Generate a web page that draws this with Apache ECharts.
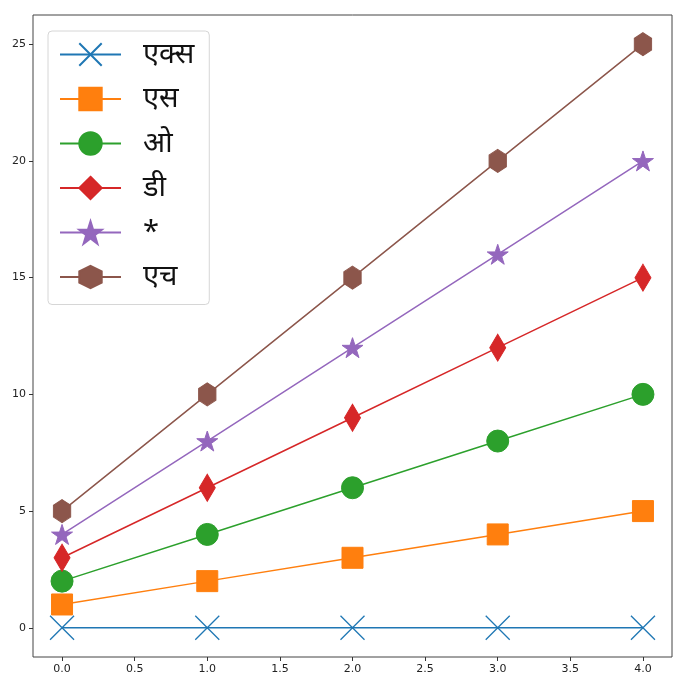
<!DOCTYPE html>
<html>
<head>
<meta charset="utf-8">
<script src="https://cdn.jsdelivr.net/npm/echarts@6/dist/echarts.min.js"></script>
<style>
  html, body { margin: 0; padding: 0; background: #fff; }
  #chart { width: 686px; height: 686px; }
</style>
</head>
<body>
<div id="chart"></div>
<script>
// data
var xValues = [0, 1, 2, 3, 4];
var seriesNames = ['एक्स', 'एस', 'ओ', 'डी', '*', 'एच'];
var valuesX = [0, 0, 0, 0, 0];
var valuesS = [1, 2, 3, 4, 5];
var valuesO = [2, 4, 6, 8, 10];
var valuesD = [3, 6, 9, 12, 15];
var valuesStar = [4, 8, 12, 16, 20];
var valuesH = [5, 10, 15, 20, 25];
var xTicks = [0, 0.5, 1, 1.5, 2, 2.5, 3, 3.5, 4];
var yTicks = [0, 5, 10, 15, 20, 25];

var allValues = [valuesX, valuesS, valuesO, valuesD, valuesStar, valuesH];

// matplotlib tab10 + marker shapes
var colors = ['#1f77b4', '#ff7f0e', '#2ca02c', '#d62728', '#9467bd', '#8c564b'];
var starPath = 'path://M0 -1000L224.5 -309L951 -309L363.3 118L588 809L0 382L-588 809L-363.3 118L-951 -309L-224.5 -309Z';
var hexPath = 'path://M0 -1000L866 -500L866 500L0 1000L-866 500L-866 -500Z';
var xPath = 'path://M0 0L10 10M10 0L0 10';
var markers = [
  { symbol: xPath, size: 24 },
  { symbol: 'rect', size: 21 },
  { symbol: 'circle', size: 22 },
  { symbol: 'diamond', size: [16, 27] },
  { symbol: starPath, size: 21 },
  { symbol: hexPath, size: [20, 23] }
];

var chart = echarts.init(document.getElementById('chart'));

var series = allValues.map(function (vals, i) {
  var isX = i === 0;
  return {
    name: seriesNames[i],
    type: 'line',
    data: xValues.map(function (x, j) { return [x, vals[j]]; }),
    symbol: markers[i].symbol,
    symbolSize: markers[i].size,
    symbolKeepAspect: true,
    showAllSymbol: true,
    z: 2 + i,
    lineStyle: { color: colors[i], width: 1.5 },
    itemStyle: isX
      ? { color: 'transparent', borderColor: colors[i], borderWidth: 1.3 }
      : { color: colors[i], borderColor: colors[i], borderWidth: 1, opacity: 1 },
    emphasis: { disabled: true },
    animation: false
  };
});

chart.setOption({
  backgroundColor: '#fff',
  animation: false,
  grid: {
    left: 33, right: 14, top: 15, bottom: 29,
    show: true, borderColor: '#444', borderWidth: 1, backgroundColor: '#fff'
  },
  legend: {
    orient: 'vertical',
    left: 48, top: 31,
    padding: [9, 15, 13, 11],
    itemWidth: 61,
    itemHeight: 28,
    itemGap: 15.5,
    backgroundColor: 'rgba(255,255,255,0.8)',
    borderColor: '#d6d6d6',
    borderWidth: 1,
    borderRadius: 4,
    textStyle: {
      fontSize: 29,
      lineHeight: 27,
      color: '#111',
      fontFamily: '"Noto Sans", "DejaVu Sans", sans-serif',
      padding: [0, 0, 0, 17]
    },
    data: seriesNames
  },
  xAxis: {
    type: 'value',
    min: -0.2, max: 4.2,
    splitLine: { show: false },
    axisLine: { show: false, onZero: false },
    axisTick: { show: true, length: 4, lineStyle: { color: '#333' }, customValues: xTicks },
    axisLabel: {
      customValues: xTicks,
      color: '#222', fontSize: 11, margin: 7,
      fontFamily: '"DejaVu Sans", sans-serif',
      formatter: function (v) { return v.toFixed(1); }
    }
  },
  yAxis: {
    type: 'value',
    min: -1.25, max: 26.25,
    splitLine: { show: false },
    axisLine: { show: false, onZero: false },
    axisTick: { show: true, length: 4, lineStyle: { color: '#333' }, customValues: yTicks },
    axisLabel: {
      customValues: yTicks,
      color: '#222', fontSize: 11, margin: 7,
      fontFamily: '"DejaVu Sans", sans-serif'
    }
  },
  series: series
});
</script>
</body>
</html>
